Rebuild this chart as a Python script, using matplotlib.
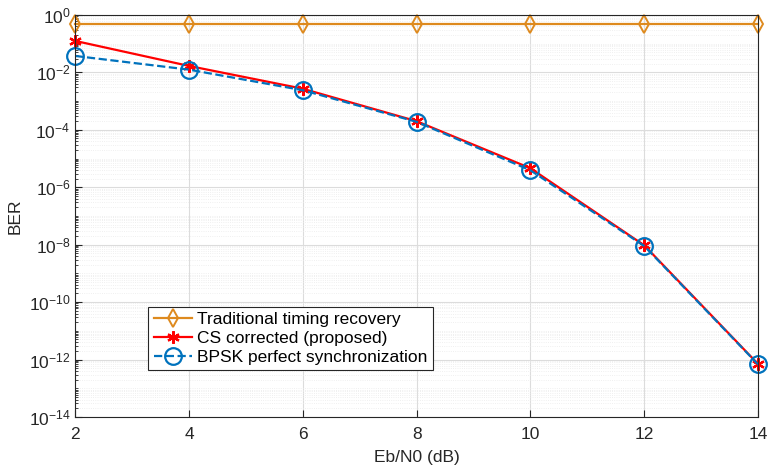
import numpy as np
import matplotlib
matplotlib.use("Agg")
import matplotlib.pyplot as plt
from matplotlib.ticker import LogLocator, NullFormatter, FixedLocator

plt.rcParams["font.family"] = ["Liberation Sans", "DejaVu Sans"]

# Eb/N0 sweep and measured BER per scheme
ebn0_db = [2, 4, 6, 8, 10, 12, 14]
ber_traditional = [0.5, 0.5, 0.5, 0.5, 0.5, 0.5, 0.5]
ber_cs_corrected = [0.125, 0.0168, 0.0027, 2.0e-4, 4.6e-6, 9.5e-9, 7.0e-13]
ber_bpsk_perfect = [0.0375, 0.0125, 0.0024, 1.9e-4, 3.9e-6, 9.0e-9, 6.8e-13]

c_orange = "#DE8A1E"
c_red = "#FF0000"
c_blue = "#0072BD"

fig = plt.figure(figsize=(7.68, 4.69), dpi=100)
ax = fig.add_axes([0.098, 0.111, 0.889, 0.857])

ax.semilogy(ebn0_db, ber_traditional, "-d", color=c_orange, lw=1.6,
            ms=9, mfc="none", mew=1.4, clip_on=False,
            label="Traditional timing recovery")
ax.semilogy(ebn0_db, ber_cs_corrected, "-", marker=(6, 2, 0), color=c_red,
            lw=1.6, ms=9, mew=1.6, clip_on=False,
            label="CS corrected (proposed)")
# blue dashed drawn last so it sits over the red line
ax.semilogy(ebn0_db, ber_bpsk_perfect, "--o", color=c_blue, lw=1.6,
            ms=12, mfc="none", mew=1.6, clip_on=False,
            label="BPSK perfect synchronization")

ax.set_xlim(2, 14)
ax.set_ylim(1e-14, 1)
ax.set_xticks(ebn0_db)
ax.yaxis.set_major_locator(FixedLocator([10.0 ** k for k in range(-14, 1, 2)]))
ax.yaxis.set_minor_locator(LogLocator(base=10, subs=np.arange(1, 10), numticks=100))
ax.yaxis.set_minor_formatter(NullFormatter())

ax.grid(True, which="major", color="#DCDCDC", lw=0.8)
ax.grid(True, which="minor", axis="y", color="#EBEBEB", lw=0.6, ls=":")
ax.set_axisbelow(True)

for sp in ax.spines.values():
    sp.set_color("#262626")
    sp.set_linewidth(0.8)
ax.tick_params(which="both", direction="in", colors="#262626", labelsize=12.5)
ax.tick_params(which="major", length=5)
ax.tick_params(which="minor", length=2.5)
ax.tick_params(axis="x", pad=7)

ax.set_xlabel("Eb/N0 (dB)", fontsize=12.5, color="#262626", labelpad=6)
ax.set_ylabel("BER", fontsize=12.5, color="#262626", labelpad=4)

leg = ax.legend(loc="lower left", bbox_to_anchor=(0.107, 0.117), fontsize=12.5,
                fancybox=False, edgecolor="#262626", framealpha=1,
                borderaxespad=0, handlelength=2.2, borderpad=0.3,
                labelspacing=0.2, handletextpad=0.3)
leg.get_frame().set_linewidth(0.8)

fig.savefig("out.png", dpi=100)
